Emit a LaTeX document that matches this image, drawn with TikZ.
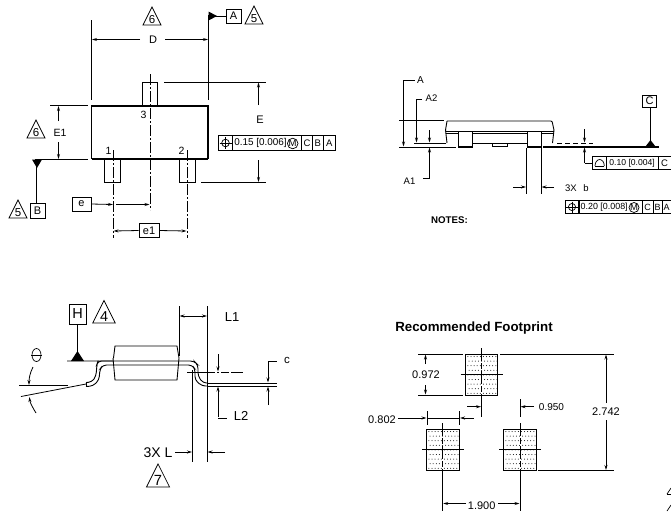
\documentclass[tikz,border=0pt]{standalone}
\usepackage{fontspec}
\setmainfont{Liberation Sans}
\usetikzlibrary{arrows.meta}
\newcommand{\fs}[1]{\fontsize{#1}{#1}\selectfont}
\tikzset{
 x=1pt,y=-1pt,
 dim/.style={line width=.8pt,black},
 arr/.style={dim,-{Stealth[length=5pt,width=3pt]}},
 cl/.style={line width=.7pt,dash pattern=on 11pt off 2pt on 2pt off 2pt},
 part/.style={line width=.9pt},
 lab/.style={inner sep=0pt,font=\fs{10.5}},
 small/.style={inner sep=0pt,font=\fs{9.5}},
 fp/.style={inner sep=0pt,font=\fs{11}},
 frame/.style={draw,line width=.8pt,fill=white,inner sep=0pt,minimum height=15.5pt,font=\fs{9.5}},
 letter/.style={draw,line width=.8pt,fill=white,inner sep=0pt,minimum height=14pt,font=\fs{11}},
}
\newcommand{\tri}[4][1]{%
 \pgfmathsetmacro{\trifs}{#1*11.5}%
 \draw[line width=.7pt] (#2-9*#1,#3) -- (#2,#3-18*#1) -- (#2+9*#1,#3) -- cycle;
 \node[inner sep=0pt,font=\fs{\trifs}] (t#4#2) at (#2,#3-5.5*#1) {#4};}
\newcommand{\dotpad}[4]{%
 \draw[line width=1pt] (#1,#2) rectangle (#3,#4);
 \foreach \yy in {0,1,...,8}{\foreach \xx in {0,1,...,9}{
  \fill[black] ({#1+2.2+\xx*3.1+mod(\yy,2)*1.2},{#2+2.5+\yy*4.6}) circle (.5pt);}}}
\begin{document}
\begin{tikzpicture}
\useasboundingbox (0,0) rectangle (671,512);
\fill[white] (0,0) rectangle (671,512);
% ---------- top view
\draw[line width=1.3pt] (91.5,106) -- (208,106) -- (208,158.5) -- (91.5,158.5) -- cycle;
\draw[line width=2pt] (91.5,158.5) -- (208,158.5);
\draw[part] (142,106) -- (142,82) -- (157.5,82) -- (157.5,106);
\draw[part] (104.5,159) -- (104.5,182.5) -- (120.5,182.5) -- (120.5,159);
\draw[part] (179.5,159) -- (179.5,182.5) -- (195,182.5) -- (195,159);
\draw[cl] (150,74) -- (150,210);
\draw[cl] (113,150) -- (113,238);
\draw[cl] (187,150) -- (187,238);
\draw[dim] (91,20) -- (91,100);
\draw[dim] (208.5,15) -- (208.5,100);
\node[inner sep=0pt,font=\fs{11}] (D) at (153,39.5) {D};
\draw[arr] (140,39.5) -- (92,39.5);
\draw[arr] (165,39.5) -- (208,39.5);
\tri{152}{25}{6}
\fill (208.5,11.5) -- (217,16) -- (208.5,20.5) -- cycle;
\node[letter,minimum width=15pt] (boxA) at (233.5,16) {A};
\draw[dim] (215,16) -- (boxA.west);
\tri{254}{24}{5}
\draw[dim] (164,82) -- (266,82);
\draw[dim] (201,182.5) -- (266,182.5);
\draw[arr] (258.5,105) -- (258.5,82.5);
\draw[arr] (258.5,160) -- (258.5,182);
\node[inner sep=0pt,font=\fs{11}] (E) at (260,120) {E};
\node[frame,minimum width=14.3pt] (ftA1) at (225.2,143) {};
\draw[line width=.7pt] (225.5,143) circle (3.8pt);
\draw[line width=.7pt] (219.5,143) -- (231.5,143) (225.5,137) -- (225.5,149);
\node[frame,minimum width=69.4pt,anchor=west] (ftA2) at (232.3,143) {};
\node[inner sep=0pt,anchor=west,font=\fs{9.9}] (vA) at (234.2,142.5) {0.15 [0.006]};
\draw[line width=.7pt] (292.7,143.5) circle (5.3pt);
\node[inner sep=0pt,font=\fs{9.5}] (mA) at (292.7,143.5) {M};
\node[frame,minimum width=10.6pt] (ftA3) at (307,143) {C};
\node[frame,minimum width=11pt] (ftA4) at (317.8,143) {B};
\node[frame,minimum width=11.7pt] (ftA5) at (329.2,143) {A};
\draw[dim] (50,105.5) -- (88,105.5);
\draw[dim] (35,159.5) -- (88,159.5);
\draw[arr] (58.5,121) -- (58.5,106);
\draw[arr] (58.5,142) -- (58.5,159);
\node[inner sep=0pt,font=\fs{10.5}] (E1) at (60,133) {E1};
\tri{36}{138}{6}
\fill (32,159.5) -- (42,159.5) -- (37,168) -- cycle;
\node[letter,minimum width=15pt,minimum height=15pt] (boxB) at (37.5,210.5) {B};
\draw[dim] (36.5,165) -- (36.5,203);
\tri{18}{218}{5}
\node[lab] (n1) at (108.5,151) {1};
\node[lab] (n2) at (181.5,151) {2};
\node[lab] (n3) at (143.5,115) {3};
\node[letter,minimum width=19pt] (boxe) at (81.5,204) {e};
\draw[arr] (boxe.east) -- (113,204.5);
\draw[arr] (116,204.5) -- (149.5,204.5);
\node[letter,minimum width=20pt] (boxe1) at (149,230.5) {e1};
\draw[arr] (boxe1.west) -- (113.5,231);
\draw[arr] (boxe1.east) -- (186.5,231);
% ---------- side view
\draw[part,rounded corners=1pt] (447,121) -- (552,121) -- (554,130) -- (552.5,143) (447,121) -- (445.5,130) -- (447,143);
\draw[part] (445.5,131) -- (553.5,131);
\draw[part] (445.5,133) -- (553.5,133);
\draw[part] (458,143) -- (527,143);
\draw[part,fill=white] (458,131) rectangle (472.5,147);
\draw[part,fill=white] (527,131) rectangle (541,147);
\draw[line width=1.3pt] (458,147) -- (472.5,147);
\draw[line width=1.3pt] (527,147) -- (541,147);
\draw[part] (492,143) -- (492,146.5) -- (507.5,146.5) -- (507.5,143);
\draw[dim] (399,120.5) -- (444,120.5);
\draw[dim] (414,143) -- (446,143);
\draw[dim] (399,147) -- (456,147);
\draw[line width=1.3pt] (543,147) -- (659,147);
\draw[dim,dash pattern=on 5pt off 3pt] (557,143) -- (593,143);
\draw[dim] (414.5,80) -- (403.5,80);
\draw[arr] (403.5,80) -- (403.5,146.5);
\node[small,font=\fs{10}] (A) at (420.5,80.5) {A};
\draw[dim] (422,99) -- (416.5,99);
\draw[arr] (416.5,99) -- (416.5,142.5);
\node[small] (A2) at (431.5,98.5) {A2};
\draw[arr] (429.5,130) -- (429.5,142.5);
\draw[arr] (429.5,178.5) -- (429.5,147.5);
\draw[dim] (429.5,178.5) -- (423,178.5);
\node[small] (A1) at (409.5,181) {A1};
\draw[dim] (526.5,148) -- (526.5,193.5);
\draw[dim] (541,148) -- (541,193.5);
\draw[arr] (513,187) -- (526,187);
\draw[arr] (554,187) -- (541.5,187);
\node[small,anchor=west] (b) at (565,188.5) {3X\hspace{4pt} b};
\draw[arr] (584.5,129) -- (584.5,142.5);
\draw[arr] (584.5,163) -- (584.5,147.5);
\node[frame,minimum width=13.7pt,minimum height=12.3pt] (p1) at (599.1,163) {};
\draw[dim] (584.5,163) -- (p1.west);
\draw[line width=.7pt] (595,166) -- (604.3,166);
\draw[line width=.7pt] (595,166) arc (180:360:4.65 and 6.5);
\node[frame,minimum width=52.3pt,minimum height=12.3pt,font=\fs{8.6}] (p2) at (632.1,163) {\raisebox{.8pt}{0.10 [0.004]}};
\node[frame,minimum width=12.7pt,minimum height=12.3pt] (p3) at (664.6,163) {C};
\node[letter,minimum width=14pt,minimum height=12.3pt] (boxC) at (649.7,101.2) {C};
\draw[dim] (650.5,107.3) -- (650.5,142);
\fill (645.5,146.5) -- (650.5,140) -- (655.5,146.5) -- cycle;
\node[frame,minimum width=13.4pt,minimum height=12.6pt] (q1) at (572,207) {};
\draw[line width=.7pt] (572,207) circle (3.6pt);
\draw[line width=.7pt] (566,207) -- (578,207) (572,201.5) -- (572,212.5);
\node[frame,minimum width=63.6pt,minimum height=12.6pt,anchor=west] (q2) at (578.7,207) {};
\node[inner sep=0pt,anchor=west,font=\fs{8.9}] (vQ) at (580.5,207) {0.20 [0.008]};
\draw[line width=.7pt] (634,207.5) circle (5pt);
\node[inner sep=0pt,font=\fs{9.5}] (mQ) at (634,207.5) {M};
\node[frame,minimum width=10.7pt,minimum height=12.6pt,font=\fs{9}] (q3) at (647.6,207) {C};
\node[frame,minimum width=9.3pt,minimum height=12.6pt,font=\fs{9}] (q4) at (657.6,207) {B};
\node[frame,minimum width=8.7pt,minimum height=12.6pt,font=\fs{9}] (q5) at (666.6,207) {A};
\node[inner sep=0pt,font=\bfseries\fs{9.7}] (notes) at (449.5,220.5) {NOTES:};
% ---------- lead view
\draw[part] (113.5,358) -- (115,346) -- (177,346) -- (179,358) -- (177,380) -- (115,380) -- (113,358);
\draw[line width=.9pt,rounded corners=3.5pt] (67,361) -- (194,361) -- (198,365) -- (198,376) -- (203,383) -- (207,383);
\draw[line width=.9pt,rounded corners=3.5pt] (113,365) -- (192,365) -- (195,369) -- (195,380) -- (202,386) -- (207,386);
\draw[line width=.9pt,rounded corners=3.5pt] (113,361) -- (98,361) -- (97,364) -- (96,376) -- (92,382) -- (86,382.5);
\draw[line width=.9pt,rounded corners=3.5pt] (113,365) -- (103,365) -- (100,369) -- (99,380) -- (93,386) -- (86,386.5);
\draw[part] (86,382.5) -- (86,386.5);
\draw[line width=.9pt] (207,383) -- (277,383) (207,386) -- (277,386);
\fill (71,361) -- (77.5,351) -- (84,361) -- cycle;
\node[letter,minimum width=17pt,minimum height=20pt,font=\fs{14.5}] (boxH) at (77.5,314) {H};
\draw[dim] (boxH.south) -- (77.5,352);
\tri[1.25]{104}{323}{4}
\node[inner sep=0pt,font=\fs{13}] (L1) at (232,317) {L1};
\node[inner sep=0pt,font=\fs{13}] (L2) at (241,416) {L2};
\node[inner sep=0pt,font=\fs{14}] (L) at (158,452.5) {3X L};
\tri[1.28]{158}{487}{7}
\draw[dim] (179,306) -- (179,356);
\draw[dim] (207,306) -- (207,462);
\draw[dim] (192.5,370) -- (192.5,462);
\draw[arr] (193,316) -- (179.5,316);
\draw[arr] (193,316) -- (207,316);
\draw[line width=.7pt,dash pattern=on 28pt off 2pt on 2pt off 2pt on 8pt off 2pt] (187,372) -- (243,372);
\draw[arr] (218,354) -- (218,371.5);
\draw[arr] (218,417) -- (218,386.5);
\draw[dim] (218,418) -- (227,418);
\draw[arr] (268,361.5) -- (268,382.5);
\draw[arr] (268,405) -- (268,386.5);
\draw[dim] (268,361.5) -- (277,361.5);
\node[inner sep=0pt,font=\fs{11.5}] (c) at (287,360.5) {c};
\draw[arr] (175,452) -- (192,452);
\draw[arr] (225,452) -- (207.5,452);
\draw[dim] (19,385.5) -- (68,385.5);
\draw[dim] (21,396.5) -- (86,384);
\draw[line width=.7pt] (36.5,355) ellipse (4.5pt and 6.5pt);
\draw[line width=.7pt] (31,355) -- (42,355);
\draw[arr] (33,367) .. controls (30,373) and (29,378) .. (29,385);
\draw[arr] (36,413) .. controls (33,408) and (30,403) .. (29.5,397);
% ---------- footprint
\node[inner sep=0pt,font=\bfseries\fs{13.3}] (rf) at (474,328) {Recommended Footprint};
\dotpad{465.7}{354}{497.7}{395.3}
\dotpad{426.7}{429}{459.3}{470.7}
\dotpad{503.7}{429}{536.3}{470.7}
\draw[dim,dash pattern=on 13pt off 2pt on 6pt off 2pt] (481.7,348) -- (481.7,404);
\draw[dim] (460.7,374.5) -- (502.7,374.5);
\draw[dim,dash pattern=on 13pt off 2pt on 6pt off 2pt] (442.7,423) -- (442.7,476);
\draw[dim] (422,449.5) -- (464,449.5);
\draw[dim,dash pattern=on 13pt off 2pt on 6pt off 2pt] (520,423) -- (520,476);
\draw[dim] (499,449.5) -- (541,449.5);
\draw[dim] (418,354) -- (463,354);
\draw[dim] (418,395) -- (463,395);
\draw[dim] (500,354) -- (614,354);
\draw[dim] (538,470.5) -- (614,470.5);
\node[fp] (v972) at (426,375) {0.972};
\draw[arr] (425.5,364) -- (425.5,354.5);
\draw[arr] (425.5,385) -- (425.5,394.5);
\node[fp] (v2742) at (606,412) {2.742};
\draw[arr] (606,403) -- (606,354.5);
\draw[arr] (606,420) -- (606,470);
\draw[dim] (481.7,404) -- (481.7,416.7);
\draw[dim] (520,399) -- (520,416.7);
\draw[arr] (467,406.7) -- (481,406.7);
\draw[arr] (534,406.7) -- (520.5,406.7);
\node[inner sep=0pt,font=\fs{10}] (v950) at (551.5,407) {0.950};
\draw[dim] (427,411) -- (427,425);
\draw[dim] (459.5,411) -- (459.5,425);
\draw[dim] (427,418) -- (459.5,418);
\node[fp] (v802) at (382,420) {0.802};
\draw[arr] (398,418) -- (426.5,418);
\draw[arr] (473.5,418) -- (460,418);
\draw[dim] (442.7,476) -- (442.7,511);
\draw[dim] (520,476) -- (520,511);
\node[fp] (v1900) at (481.7,505.5) {1.900};
\draw[arr] (466,503.5) -- (443.2,503.5);
\draw[arr] (498,503.5) -- (519.5,503.5);
% cut-off triangles at the right edge
\draw[line width=.7pt] (667,494) -- (671,488);
\draw[line width=.7pt] (667,494) -- (671,494);
\draw[line width=.7pt] (667,511) -- (671,505);
\end{tikzpicture}
\end{document}
